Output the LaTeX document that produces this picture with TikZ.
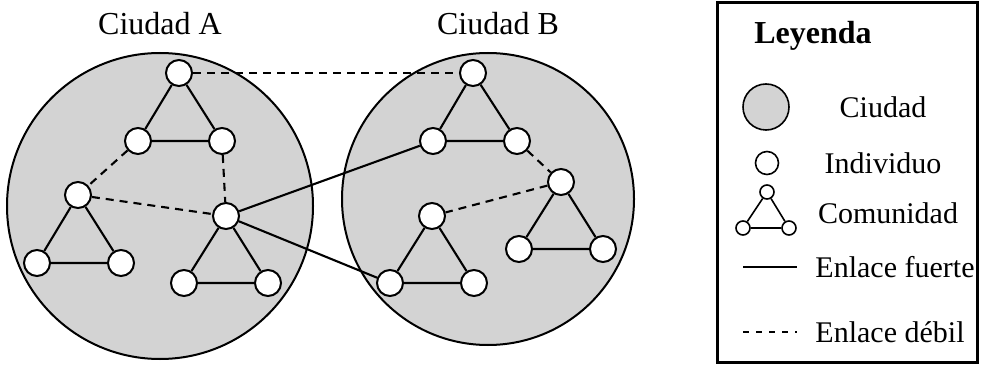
\documentclass[tikz,border=0pt]{standalone}
\usepackage{fontspec}
\setmainfont{Liberation Serif}
\definecolor{cityfill}{RGB}{211,211,211}
\tikzset{
  city/.style={circle, draw=black, fill=cityfill, line width=2pt, inner sep=0pt},
  indiv/.style={circle, draw=black, fill=white, line width=2pt, minimum size=26pt, inner sep=0pt},
  smallindiv/.style={circle, draw=black, fill=white, line width=1.6pt, minimum size=14pt, inner sep=0pt},
  strong/.style={line width=2.1pt},
  weak/.style={line width=2.1pt, dash pattern=on 8pt off 6pt},
  citylabel/.style={font=\fontsize{32}{36}\selectfont, inner sep=0pt},
  legtext/.style={font=\fontsize{30}{34}\selectfont, inner sep=0pt},
}
\begin{document}
\begin{tikzpicture}[x=1pt, y=-1pt]
\useasboundingbox (0,0) rectangle (982,366);
% cities
\node[city, minimum size=306pt] (cityA) at (160,206) {};
\node[city, minimum size=292pt] (cityB) at (488,199) {};
\node[citylabel] (labA) at (160,24) {Ciudad A};
\node[citylabel] (labB) at (498,24) {Ciudad B};
% individuals city A
\node[indiv] (a1) at (179,73) {};
\node[indiv] (a2) at (138,141) {};
\node[indiv] (a3) at (222,141) {};
\node[indiv] (a4) at (78,195) {};
\node[indiv] (a5) at (37,263) {};
\node[indiv] (a6) at (121,263) {};
\node[indiv] (a7) at (226,216) {};
\node[indiv] (a8) at (184,283) {};
\node[indiv] (a9) at (268,283) {};
% individuals city B
\node[indiv] (b1) at (473,73) {};
\node[indiv] (b2) at (433,141) {};
\node[indiv] (b3) at (517,141) {};
\node[indiv] (b4) at (561,182) {};
\node[indiv] (b5) at (519,249) {};
\node[indiv] (b6) at (603,249) {};
\node[indiv] (b7) at (432,216) {};
\node[indiv] (b8) at (390,283) {};
\node[indiv] (b9) at (474,283) {};
% edges
\draw[strong] (a1) -- (a2) -- (a3) -- (a1);
\draw[strong] (a4) -- (a5) -- (a6) -- (a4);
\draw[strong] (a7) -- (a8) -- (a9) -- (a7);
\draw[strong] (b1) -- (b2) -- (b3) -- (b1);
\draw[strong] (b4) -- (b5) -- (b6) -- (b4);
\draw[strong] (b7) -- (b8) -- (b9) -- (b7);
\draw[weak] (a1) -- (b1);
\draw[weak] (a2) -- (a4);
\draw[weak] (a3) -- (a7);
\draw[weak] (a4) -- (a7);
\draw[weak] (b3) -- (b4);
\draw[weak] (b4) -- (b7);
\draw[strong] (a7) -- (b2);
\draw[strong] (a7) -- (b8);
% legend
\node[draw=black, line width=2.6pt, minimum width=260pt, minimum height=360pt, inner sep=0pt] (legbox) at (847.5,182.5) {};
\node[font=\bfseries\fontsize{32}{38}\selectfont, inner sep=0pt] (legtitle) at (813,36) {Leyenda};
\node[city, minimum size=46pt, line width=1.6pt] (legcity) at (766,107) {};
\node[legtext] (legcityt) at (883,107) {Ciudad};
\node[circle, draw=black, fill=white, line width=1.6pt, minimum size=23pt, inner sep=0pt] (legind) at (767,163) {};
\node[legtext] (legindt) at (883,163) {Individuo};
\node[smallindiv] (lt1) at (767,192) {};
\node[smallindiv] (lt2) at (743,228) {};
\node[smallindiv] (lt3) at (789,228) {};
\draw[line width=1.6pt] (lt1) -- (lt2) -- (lt3) -- (lt1);
\node[legtext] (legcomt) at (888,213) {Comunidad};
\coordinate (ls1) at (743,267);
\coordinate (ls2) at (797,267);
\draw[line width=1.6pt] (ls1) -- (ls2);
\node[legtext] (legst) at (895,267) {Enlace fuerte};
\coordinate (lw1) at (743,332);
\coordinate (lw2) at (797,332);
\draw[line width=1.6pt, dash pattern=on 6pt off 7pt] (lw1) -- (lw2);
\node[legtext] (legwt) at (890,332) {Enlace débil};
\end{tikzpicture}
\end{document}
